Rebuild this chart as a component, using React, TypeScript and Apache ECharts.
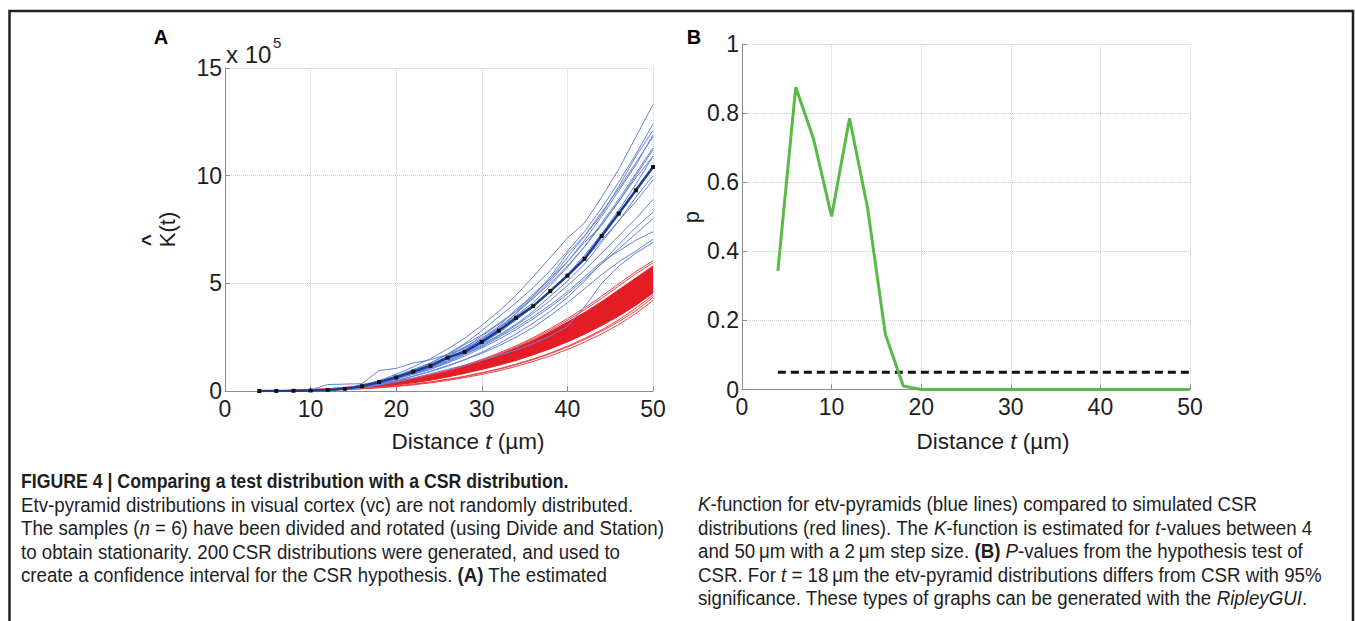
import React, { useEffect, useRef } from "react";
import * as echarts from "echarts";

const FONT = "'Liberation Sans', Arial, Helvetica, sans-serif";
const TEXT = "#1e1e1e";

// distance t (µm), 4..50 step 2
const tValues = [4, 6, 8, 10, 12, 14, 16, 18, 20, 22, 24, 26, 28, 30, 32, 34, 36, 38, 40, 42, 44, 46, 48, 50];

// Panel A, K(t) in units of 1e5
const kMean = [0, 0.003, 0.01, 0.025, 0.05, 0.1, 0.22, 0.42, 0.63, 0.9, 1.17, 1.55, 1.82, 2.28, 2.8, 3.4, 3.94, 4.64, 5.36, 6.14, 7.2, 8.24, 9.32, 10.4];

const blue01 = [0, 0.005, 0.01, 0.03, 0.06, 0.11, 0.25, 0.48, 0.78, 1.12, 1.5, 1.95, 2.45, 3.05, 3.7, 4.45, 5.3, 6.2, 7.1, 7.8, 9.0, 10.3, 11.8, 13.3];
const blue02 = [0, 0.004, 0.012, 0.03, 0.05, 0.1, 0.25, 0.45, 0.7, 0.98, 1.3, 1.72, 2.2, 2.8, 3.45, 4.1, 4.8, 5.6, 6.5, 7.4, 8.5, 9.7, 11.0, 12.4];
const blue03 = [0, 0.003, 0.01, 0.02, 0.05, 0.12, 0.2, 0.38, 0.6, 0.92, 1.2, 1.62, 2.05, 2.45, 3.0, 3.8, 4.4, 5.3, 6.4, 7.2, 8.2, 9.5, 10.9, 12.1];
const blue04 = [0, 0.004, 0.01, 0.025, 0.06, 0.1, 0.22, 0.4, 0.62, 0.88, 1.15, 1.5, 1.9, 2.4, 2.95, 3.6, 4.3, 5.1, 6.0, 7.0, 8.1, 9.3, 10.5, 11.9];
const blue05 = [0, 0.002, 0.008, 0.02, 0.05, 0.09, 0.18, 0.36, 0.6, 0.85, 1.2, 1.55, 1.92, 2.4, 2.9, 3.5, 4.1, 4.9, 5.75, 6.7, 7.8, 8.9, 10.1, 11.3];
const blue06 = [0, 0.003, 0.01, 0.03, 0.05, 0.1, 0.2, 0.4, 0.65, 0.9, 1.2, 1.5, 1.9, 2.3, 2.9, 3.6, 4.4, 5.2, 6.0, 6.9, 7.7, 8.8, 9.9, 10.9];
const blue07 = [0, 0.003, 0.01, 0.02, 0.04, 0.08, 0.18, 0.35, 0.55, 0.85, 1.1, 1.45, 1.8, 2.2, 2.7, 3.3, 3.9, 4.6, 5.3, 6.1, 7.0, 7.9, 9.0, 10.0];
const blue08 = [0, 0.004, 0.012, 0.03, 0.06, 0.12, 0.22, 0.4, 0.6, 0.82, 1.1, 1.4, 1.75, 2.15, 2.6, 3.1, 3.7, 4.4, 5.1, 5.9, 6.9, 7.9, 8.8, 9.8];
const blue09 = [0, 0.003, 0.01, 0.02, 0.05, 0.1, 0.2, 0.38, 0.58, 0.8, 1.05, 1.35, 1.7, 2.1, 2.55, 3.05, 3.6, 4.2, 4.9, 5.6, 6.4, 7.2, 8.0, 8.9];
const blue10 = [0, 0.003, 0.01, 0.025, 0.05, 0.09, 0.18, 0.35, 0.55, 0.78, 1.0, 1.3, 1.62, 2.0, 2.4, 2.85, 3.35, 3.9, 4.5, 5.2, 5.9, 6.6, 7.3, 8.0];
const blue11 = [0, 0.003, 0.01, 0.02, 0.05, 0.1, 0.2, 0.36, 0.55, 0.8, 1.05, 1.35, 1.7, 2.05, 2.5, 2.95, 3.45, 4.0, 4.6, 5.3, 6.0, 6.5, 7.0, 7.4];
const blue12 = [0, 0.002, 0.008, 0.02, 0.04, 0.08, 0.16, 0.3, 0.48, 0.7, 0.92, 1.18, 1.45, 1.75, 2.1, 2.5, 2.95, 3.5, 4.1, 4.75, 5.4, 6.0, 6.5, 7.05];
const blue13 = [0, 0.002, 0.008, 0.02, 0.04, 0.08, 0.15, 0.27, 0.42, 0.6, 0.8, 1.0, 1.2, 1.42, 1.65, 1.9, 2.2, 2.55, 3.0, 3.9, 5.0, 5.8, 6.4, 6.9];
const blue14 = [0, 0.005, 0.02, 0.05, 0.3, 0.32, 0.34, 0.95, 1.05, 1.3, 1.45, 1.7, 2.0, 2.35, 2.8, 3.3, 3.9, 4.6, 5.4, 6.3, 7.3, 8.4, 9.6, 10.9];
const blue15 = [0, 0.003, 0.01, 0.03, 0.06, 0.11, 0.3, 0.45, 0.7, 1.0, 1.3, 1.7, 2.15, 2.6, 3.15, 3.7, 4.3, 5.0, 5.8, 6.7, 7.7, 8.8, 10.0, 11.2];
const blue16 = [0, 0.004, 0.01, 0.03, 0.06, 0.12, 0.24, 0.44, 0.66, 0.95, 1.25, 1.6, 2.0, 2.55, 3.1, 3.7, 4.5, 5.2, 6.2, 7.2, 8.3, 9.4, 10.6, 11.8];
const blue17 = [0, 0.002, 0.01, 0.02, 0.04, 0.09, 0.17, 0.31, 0.48, 0.68, 0.9, 1.15, 1.45, 1.8, 2.2, 2.65, 3.15, 3.7, 4.35, 5.1, 5.95, 6.8, 7.6, 8.3];
const blueSamples = [blue01, blue02, blue03, blue04, blue05, blue06, blue07, blue08, blue09, blue10, blue11, blue12, blue13, blue14, blue15, blue16, blue17];

// CSR simulations: dense core band and outlying curves
const redUpper = [0.004, 0.013, 0.032, 0.06, 0.1, 0.155, 0.23, 0.32, 0.43, 0.57, 0.73, 0.92, 1.14, 1.4, 1.68, 2.0, 2.36, 2.76, 3.2, 3.65, 4.15, 4.7, 5.25, 5.8];
const redLower = [0.001, 0.005, 0.014, 0.03, 0.055, 0.09, 0.14, 0.2, 0.28, 0.38, 0.5, 0.65, 0.82, 1.0, 1.2, 1.42, 1.68, 1.96, 2.28, 2.64, 3.04, 3.48, 3.98, 4.55];
const redHigh1 = [0.004, 0.014, 0.034, 0.064, 0.105, 0.165, 0.245, 0.34, 0.46, 0.6, 0.77, 0.97, 1.2, 1.47, 1.77, 2.1, 2.48, 2.9, 3.36, 3.86, 4.4, 4.98, 5.55, 6.05];
const redHigh2 = [0.004, 0.013, 0.033, 0.062, 0.1, 0.16, 0.235, 0.33, 0.445, 0.585, 0.75, 0.94, 1.17, 1.43, 1.72, 2.04, 2.42, 2.83, 3.28, 3.77, 4.3, 4.88, 5.45, 5.95];
const redLow1 = [0.001, 0.004, 0.011, 0.024, 0.043, 0.07, 0.105, 0.15, 0.21, 0.285, 0.38, 0.49, 0.62, 0.77, 0.94, 1.14, 1.37, 1.63, 1.93, 2.27, 2.65, 3.08, 3.6, 4.2];
const redLow2 = [0.001, 0.005, 0.012, 0.026, 0.046, 0.075, 0.112, 0.162, 0.228, 0.31, 0.41, 0.53, 0.67, 0.83, 1.01, 1.22, 1.46, 1.73, 2.04, 2.39, 2.78, 3.22, 3.72, 4.35];
const redLow3 = [0.001, 0.005, 0.013, 0.027, 0.048, 0.078, 0.118, 0.17, 0.238, 0.322, 0.425, 0.545, 0.685, 0.85, 1.03, 1.25, 1.49, 1.76, 2.08, 2.44, 2.84, 3.3, 3.85, 4.45];
const redEdges = [redHigh1, redHigh2, redLow1, redLow2, redLow3];

// Panel B, p-values
const pValues = [0.343, 0.875, 0.724, 0.501, 0.785, 0.528, 0.16, 0.01, 0, 0, 0, 0, 0, 0, 0, 0, 0, 0, 0, 0, 0, 0, 0, 0];
const pThreshold = 0.05;

const yTicksA = ["0", "5", "10", "15"];
const yTicksB = ["0", "0.2", "0.4", "0.6", "0.8", "1"];

const captionLeft = [
  "FIGURE 4 | Comparing a test distribution with a CSR distribution.",
  "Etv-pyramid distributions in visual cortex (vc) are not randomly distributed.",
  "The samples ({i|n} = 6) have been divided and rotated (using Divide and Station)",
  "to obtain stationarity. 200\u2009CSR distributions were generated, and used to",
  "create a confidence interval for the CSR hypothesis. {b|(A)} The estimated",
];
const captionRight = [
  "{i|K}-function for etv-pyramids (blue lines) compared to simulated CSR",
  "distributions (red lines). The {i|K}-function is estimated for {i|t}-values between 4",
  "and 50\u2009\u03bcm with a 2\u2009\u03bcm step size. {b|(B)} {i|P}-values from the hypothesis test of",
  "CSR. For {i|t} = 18\u2009\u03bcm the etv-pyramid distributions differs from CSR with 95%",
  "significance. These types of graphs can be generated with the {i|RipleyGUI}.",
];

const GRID_A = { left: 225, top: 68, width: 428, height: 323 };
const GRID_B = { left: 742, top: 44, width: 448, height: 345.5 };
const TICK_FS = 23;

function axisCommon(isY: boolean, fmt?: (v: number) => string) {
  return {
    axisLine: { show: true, lineStyle: { color: "#8a8a8a", width: 1 } },
    axisTick: { show: true, inside: true, length: 5, lineStyle: { color: "#8a8a8a" } },
    axisLabel: { color: TEXT, fontSize: TICK_FS, fontFamily: FONT, formatter: fmt, margin: isY ? 3 : 6 },
    splitLine: { show: true, lineStyle: { color: "#cfcfcf", type: "dotted", width: 1 } },
  };
}

export default function App() {
  const ref = useRef<HTMLDivElement>(null);
  useEffect(() => {
    if (!ref.current) return;
    const chart = echarts.init(ref.current, undefined, { renderer: "svg" });

    const CAP_FS = 20;
    const richDefs = {
      i: { fontStyle: "italic", fontSize: CAP_FS, fontFamily: FONT, fill: TEXT },
      b: { fontWeight: "bold", fontSize: CAP_FS, fontFamily: FONT, fill: TEXT },
    };
    const leftY = [481, 504.5, 528, 551.5, 575];
    const rightY = [504, 527.5, 551, 574.5, 598];

    const captionEls: any[] = [];
    const capText = (x: number, y: number, text: string, bold: boolean) => ({
      type: "text",
      x,
      y,
      scaleX: bold ? 0.885 : 0.935,
      silent: true,
      style: {
        text,
        fontSize: CAP_FS,
        fontWeight: bold ? "bold" : "normal",
        fontFamily: FONT,
        fill: TEXT,
        textAlign: "left",
        textVerticalAlign: "middle",
        align: "left",
        verticalAlign: "middle",
        rich: richDefs,
      },
    });
    captionLeft.forEach((s, k) => captionEls.push(capText(21, leftY[k], s, k === 0)));
    captionRight.forEach((s, k) => captionEls.push(capText(698, rightY[k], s, false)));

    const txt = (x: number, y: number, text: string, extra: any = {}, elExtra: any = {}) => ({
      type: "text",
      x,
      y,
      silent: true,
      ...elExtra,
      style: {
        text,
        fontSize: 20,
        fontFamily: FONT,
        fill: TEXT,
        textAlign: "center",
        textVerticalAlign: "middle",
        align: "center",
        verticalAlign: "middle",
        ...extra,
      },
    });

    const xTitleRich = { i: { fontStyle: "italic", fontSize: 22.5, fontFamily: FONT, fill: TEXT } };

    const series: any[] = [];
    series.push({
      type: "custom",
      xAxisIndex: 0,
      yAxisIndex: 0,
      clip: true,
      silent: true,
      data: tValues.map((t, i) => [t, redLower[i], redUpper[i]]),
      encode: { x: 0, y: [1, 2] },
      renderItem: (params: any, api: any) => {
        const i = params.dataIndex;
        if (i >= tValues.length - 1) return { type: "group", children: [] };
        const p0 = api.coord([tValues[i], redLower[i]]);
        const p1 = api.coord([tValues[i + 1], redLower[i + 1]]);
        const p2 = api.coord([tValues[i + 1], redUpper[i + 1]]);
        const p3 = api.coord([tValues[i], redUpper[i]]);
        return {
          type: "polygon",
          shape: { points: [p0, p1, p2, p3] },
          style: { fill: "#e41d25", stroke: "#e41d25", lineWidth: 1 },
        };
      },
    });
    redEdges.forEach((arr) => {
      series.push({
        type: "line",
        xAxisIndex: 0,
        yAxisIndex: 0,
        data: tValues.map((t, i) => [t, arr[i]]),
        symbol: "none",
        silent: true,
        lineStyle: { color: "#ec4047", width: 1 },
      });
    });
    blueSamples.forEach((arr) => {
      series.push({
        type: "line",
        xAxisIndex: 0,
        yAxisIndex: 0,
        data: tValues.map((t, i) => [t, arr[i]]),
        symbol: "none",
        silent: true,
        lineStyle: { color: "#6482d6", width: 1 },
      });
    });
    series.push({
      type: "line",
      xAxisIndex: 0,
      yAxisIndex: 0,
      data: tValues.map((t, i) => [t, kMean[i]]),
      symbol: "rect",
      symbolSize: 4,
      showSymbol: true,
      silent: true,
      lineStyle: { color: "#1d3c98", width: 2.5 },
      itemStyle: { color: "#111" },
    });
    series.push({
      type: "line",
      xAxisIndex: 1,
      yAxisIndex: 1,
      data: [
        [tValues[0], pThreshold],
        [tValues[tValues.length - 1], pThreshold],
      ],
      symbol: "none",
      silent: true,
      lineStyle: { color: "#111", width: 3, type: [8, 5] },
    });
    series.push({
      type: "line",
      xAxisIndex: 1,
      yAxisIndex: 1,
      data: tValues.map((t, i) => [t, pValues[i]]),
      symbol: "none",
      silent: true,
      lineStyle: { color: "#5bb947", width: 3 },
    });

    const option: any = {
      animation: false,
      backgroundColor: "#fff",
      grid: [
        { ...GRID_A, containLabel: false, outerBoundsMode: "none" },
        { ...GRID_B, containLabel: false, outerBoundsMode: "none" },
      ],
      xAxis: [
        { type: "value", gridIndex: 0, min: 0, max: 50, interval: 10, ...axisCommon(false) },
        { type: "value", gridIndex: 1, min: 0, max: 50, interval: 10, ...axisCommon(false) },
      ],
      yAxis: [
        {
          type: "value",
          gridIndex: 0,
          min: 0,
          max: 15,
          interval: 5,
          ...axisCommon(true, (v: number) => yTicksA[Math.round(v / 5)] ?? ""),
        },
        {
          type: "value",
          gridIndex: 1,
          min: 0,
          max: 1,
          interval: 0.2,
          ...axisCommon(true, (v: number) => yTicksB[Math.round(v / 0.2)] ?? ""),
        },
      ],
      series,
      graphic: {
        elements: [
          {
            type: "polyline",
            silent: true,
            shape: { points: [[9.5, 660], [9.5, 11], [1353, 11], [1353, 660]] },
            style: { stroke: "#231f20", lineWidth: 2.5, fill: null },
          },
          txt(161, 37, "A", { fontWeight: "bold", fontSize: 20, fill: "#000" }),
          txt(694, 37, "B", { fontWeight: "bold", fontSize: 20, fill: "#000" }),
          txt(226, 54, "x 10", { fontSize: 24, textAlign: "left", align: "left" }),
          txt(273, 42, "5", { fontSize: 15, textAlign: "left", align: "left" }),
          txt(167, 229.5, "K(t)", { fontSize: 22 }, { rotation: Math.PI / 2 }),
          txt(148, 240, "^", { fontSize: 21, fontWeight: "bold" }, { rotation: Math.PI / 2 }),
          txt(691, 217, "p", { fontSize: 22 }, { rotation: Math.PI / 2 }),
          txt(468, 441, "Distance {i|t} (\u00b5m)", { fontSize: 22.5, rich: xTitleRich }),
          txt(993, 441, "Distance {i|t} (\u00b5m)", { fontSize: 22.5, rich: xTitleRich }),
          ...captionEls,
        ],
      },
    };
    chart.setOption(option);
    return () => chart.dispose();
  }, []);

  return (
    <div
      ref={ref}
      style={{ position: "fixed", left: 0, top: 0, width: 1355, height: 621, background: "#fff" }}
    />
  );
}
